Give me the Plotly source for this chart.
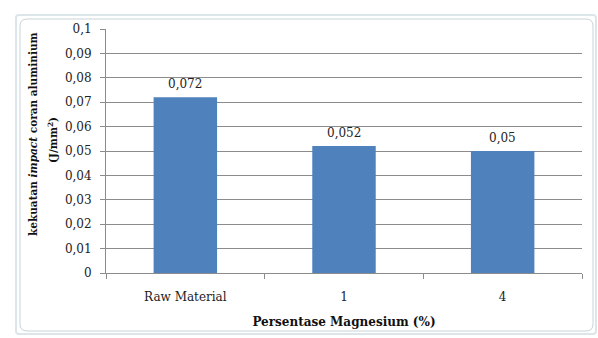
import plotly.graph_objects as go

categories = ["Raw Material", "1", "4"]
values = [0.072, 0.052, 0.05]
value_labels = ["0,072", "0,052", "0,05"]
y_ticks = [0, 0.01, 0.02, 0.03, 0.04, 0.05, 0.06, 0.07, 0.08, 0.09, 0.1]

W, H = 598, 338
L, R, T, B = 106, 16, 29, 65
PW, PH = W - L - R, H - T - B

def px(x):
    return (x - L) / PW

def py(y):
    return 1 - (y - T) / PH

serif = "DejaVu Serif"
bar_color = "#4F81BD"
grid = "#8c8c8c"

fig = go.Figure()
fig.add_trace(go.Bar(
    x=categories, y=values, marker=dict(color=bar_color, line=dict(width=0)),
    width=0.4, hoverinfo="skip",
))

for i, (v, t) in enumerate(zip(values, value_labels)):
    fig.add_annotation(x=i, y=v, text=t, showarrow=False, yanchor="bottom",
                       yshift=4, font=dict(family=serif, size=12, color="#222"))

# frame
def rounded(x0, y0, x1, y1, r):
    return (f"M {px(x0+r)},{py(y0)} L {px(x1-r)},{py(y0)} "
            f"Q {px(x1)},{py(y0)} {px(x1)},{py(y0+r)} L {px(x1)},{py(y1-r)} "
            f"Q {px(x1)},{py(y1)} {px(x1-r)},{py(y1)} L {px(x0+r)},{py(y1)} "
            f"Q {px(x0)},{py(y1)} {px(x0)},{py(y1-r)} L {px(x0)},{py(y0+r)} "
            f"Q {px(x0)},{py(y0)} {px(x0+r)},{py(y0)} Z")

fig.add_shape(type="path", xref="paper", yref="paper",
              path=rounded(16, 15, 596, 334, 3), line=dict(color="#dbe5ea", width=2), layer="below")
fig.add_shape(type="path", xref="paper", yref="paper",
              path=rounded(20, 19, 593, 331, 7), line=dict(color="#c9d3d8", width=1), layer="below")

# y-axis title (two lines)
fig.add_annotation(xref="paper", yref="paper", x=px(33), y=py(134),
                   text="<b>kekuatan <i>impact</i> coran aluminium</b>",
                   textangle=-90, showarrow=False, font=dict(family=serif, size=10.5, color="#111"),
                   xanchor="center", yanchor="middle")
fig.add_annotation(xref="paper", yref="paper", x=px(52), y=py(140), text="<b>(J/mm<sup>2</sup>)</b>",
                   textangle=-90, showarrow=False, font=dict(family=serif, size=10.5, color="#111"),
                   xanchor="center", yanchor="middle")

fig.update_layout(
    width=W, height=H,
    margin=dict(l=L, r=R, t=T, b=B),
    paper_bgcolor="white", plot_bgcolor="white",
    separators=",.",
    showlegend=False,
    font=dict(family=serif, size=12, color="#222"),
    xaxis=dict(
        type="category", tickson="boundaries", ticks="outside", ticklen=5, tickcolor=grid,
        showline=True, linecolor=grid, linewidth=1, showgrid=False,
        tickfont=dict(family=serif, size=12, color="#222"),
        ticklabelstandoff=13,
        title=dict(text="<b>Persentase Magnesium (%)</b>", font=dict(family=serif, size=12, color="#111"), standoff=14),
        range=[-0.5, 2.5],
    ),
    yaxis=dict(
        range=[0, 0.1], tickvals=y_ticks, ticks="outside", ticklen=5, tickcolor=grid,
        showline=True, linecolor=grid, linewidth=1,
        showgrid=True, gridcolor=grid, gridwidth=1, zeroline=False,
        tickfont=dict(family=serif, size=12, color="#222"),
        ticklabelstandoff=6,
    ),
)

fig.write_html("out.html", post_script="document.body.style.margin='0';",
               config={"displayModeBar": False})
